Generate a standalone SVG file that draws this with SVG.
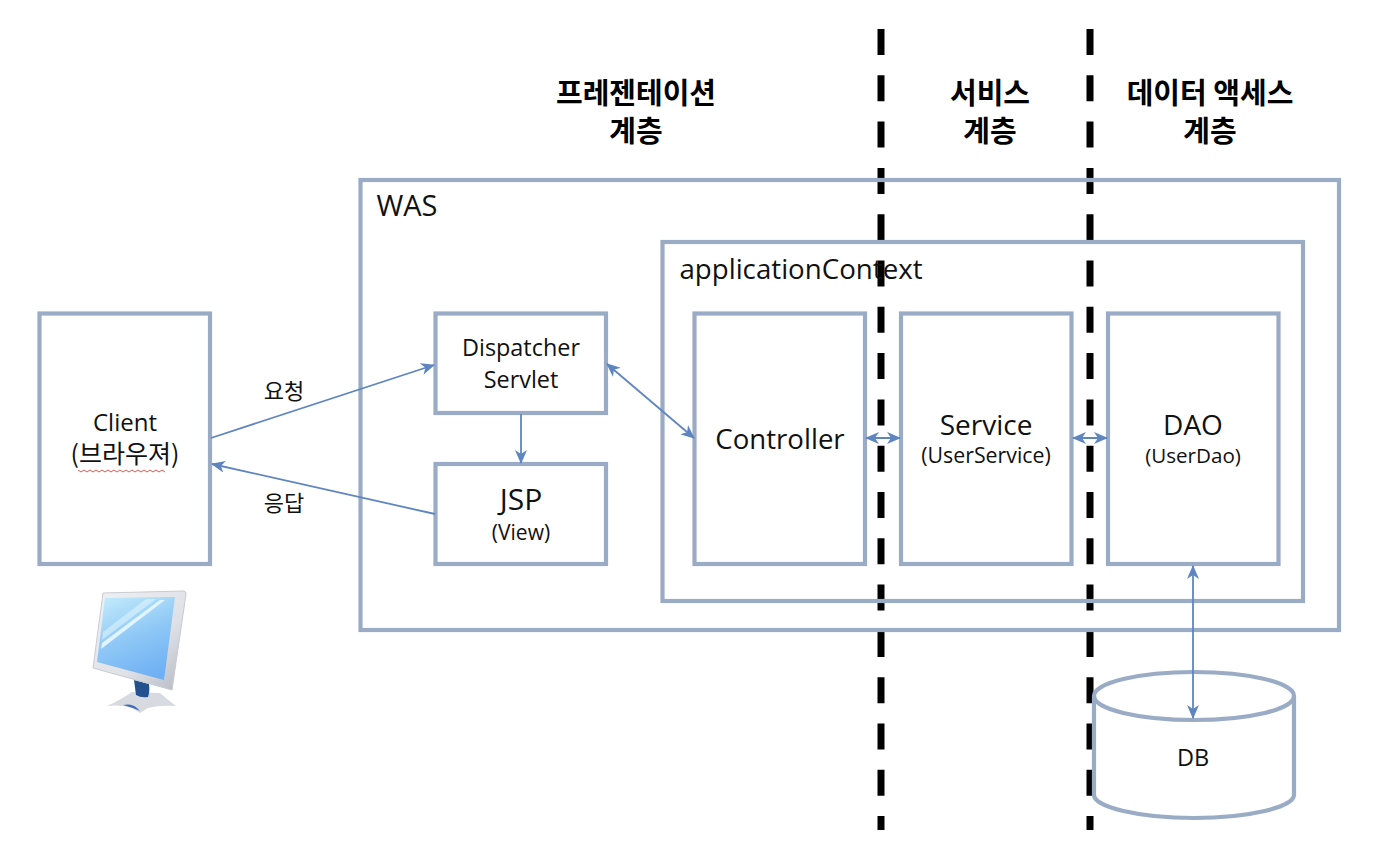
<svg xmlns="http://www.w3.org/2000/svg" width="1374" height="860" viewBox="0 0 1374 860">
<style>
text{font-family:"Open Sans","Noto Sans CJK KR",sans-serif;fill:#111;text-anchor:middle}
.ko{font-family:"Noto Sans CJK KR",sans-serif}
.h{font-family:"Noto Sans CJK KR",sans-serif;font-size:29px;font-weight:700;fill:#000}
.box{fill:none;stroke:#9aabc5;stroke-width:4.2;stroke-linejoin:miter}
.con{fill:none;stroke:#5f85c0;stroke-width:1.8}
.tier{fill:none;stroke:#000;stroke-width:7;stroke-dasharray:26 20.3}
</style>
<defs>
<marker id="end" viewBox="0 0 14 12" refX="13" refY="6" markerWidth="14" markerHeight="12" markerUnits="userSpaceOnUse" orient="auto-start-reverse"><path d="M0,0L14,6L0,12L4,6Z" fill="#5f85c0"/></marker>
<linearGradient id="scr" x1="0.2" y1="0" x2="0.6" y2="1"><stop offset="0" stop-color="#bfe8fa"/><stop offset="0.5" stop-color="#8fc8f6"/><stop offset="1" stop-color="#6fb0f4"/></linearGradient>
<linearGradient id="frm" x1="0" y1="0" x2="1" y2="1"><stop offset="0" stop-color="#f0f1f5"/><stop offset="0.6" stop-color="#dfe1e7"/><stop offset="1" stop-color="#b4b8c2"/></linearGradient>
</defs>
<g id="tiers"><path class="tier" d="M881,29V830"/><path class="tier" d="M1090,29V830"/></g>
<g id="was"><rect class="box" x="360.500" y="180" width="978.500" height="450"/><text x="407" y="216" style="font-size:29px">WAS</text></g>
<g id="applicationContext"><rect class="box" x="662.500" y="242" width="640.500" height="359"/><text x="801" y="279" style="font-size:27.700px">applicationContext</text></g>
<g id="client"><rect class="box" x="39.500" y="313.500" width="170.500" height="250.500"/><text x="125" y="431" style="font-size:24px">Client</text><text x="125" y="463" class="ko" style="font-size:25px">(브라우져)</text><path d="M78,470l3,2 3,-2 3,2 3,-2 3,2 3,-2 3,2 3,-2 3,2 3,-2 3,2 3,-2 3,2 3,-2 3,2 3,-2 3,2 3,-2 3,2 3,-2 3,2 3,-2 3,2 3,-2 3,2 3,-2 3,2 3,-2 3,2" fill="none" stroke="#e0584f" stroke-width="1"/></g>
<g id="dispatcher"><rect class="box" x="435.500" y="313.500" width="170.500" height="99.500"/><text x="521" y="356" style="font-size:23.400px">Dispatcher</text><text x="521" y="388" style="font-size:23.400px">Servlet</text></g>
<g id="jsp"><rect class="box" x="435.500" y="464" width="170.500" height="100"/><text x="521" y="510" style="font-size:30px">JSP</text><text x="521" y="540" style="font-size:21px">(View)</text></g>
<g id="controller"><rect class="box" x="694.500" y="313.500" width="170.500" height="250.500"/><text x="780" y="449" style="font-size:27.600px">Controller</text></g>
<g id="service"><rect class="box" x="901" y="313.500" width="170.500" height="250.500"/><text x="986" y="435" style="font-size:28px">Service</text><text x="986" y="463" style="font-size:21.300px">(UserService)</text></g>
<g id="dao"><rect class="box" x="1108" y="313.500" width="170.500" height="250.500"/><text x="1193" y="435" style="font-size:28px">DAO</text><text x="1193" y="463" style="font-size:20.600px">(UserDao)</text></g>
<g id="db"><path class="box" d="M1094,696V795C1094,807 1139,818 1194,818S1294,807 1294,795V696"/><ellipse class="box" cx="1194" cy="696" rx="100" ry="24"/><text x="1193" y="766" style="font-size:23.500px">DB</text></g>
<g id="monitor">
<path d="M107,706Q122,699 132,692L160,693Q168,700 176,706Q160,705 148,708L140,713Q132,707 123,706Q115,705 107,706Z" fill="#d7dae0"/>
<path d="M123,705Q132,703 137,708L140,711Q131,707 123,705Z" fill="#3f6cc0"/>
<path d="M134,680L149,684Q150,692 148,697Q141,698 136,695Z" fill="#23508f"/>
<path d="M103,593L184,591Q186,591 186,594L172,690L93,668Z" fill="url(#frm)" stroke="#c8cbd3" stroke-width="1"/>
<path d="M105,598L175,597L164,680L97,662Z" fill="url(#scr)"/>
<path d="M103,632L146,599L156,599L102,640Z" fill="#e4f6fd" opacity="0.55"/>
<path d="M102,643L160,600L165,600L101,649Z" fill="#e9f8fe" opacity="0.9"/>
</g>
<g id="connectors">
<path class="con" marker-end="url(#end)" d="M211,438L434,365"/>
<path class="con" marker-end="url(#end)" d="M435,514L212,464"/>
<path class="con" marker-end="url(#end)" d="M521,414V463"/>
<path class="con" marker-start="url(#end)" marker-end="url(#end)" d="M607,364L694,438"/>
<path class="con" marker-start="url(#end)" marker-end="url(#end)" d="M866,438H900"/>
<path class="con" marker-start="url(#end)" marker-end="url(#end)" d="M1073,438H1107"/>
<path class="con" marker-start="url(#end)" marker-end="url(#end)" d="M1193,566V718"/>
</g>
<g id="labels">
<text x="284" y="399" class="ko" style="font-size:22px">요청</text>
<text x="284" y="511" class="ko" style="font-size:22px">응답</text>
<text x="636" y="104" class="h">프레젠테이션</text><text x="636" y="142" class="h">계층</text>
<text x="990" y="104" class="h">서비스</text><text x="990" y="142" class="h">계층</text>
<text x="1210" y="104" class="h">데이터 액세스</text><text x="1210" y="142" class="h">계층</text>
</g>
</svg>
